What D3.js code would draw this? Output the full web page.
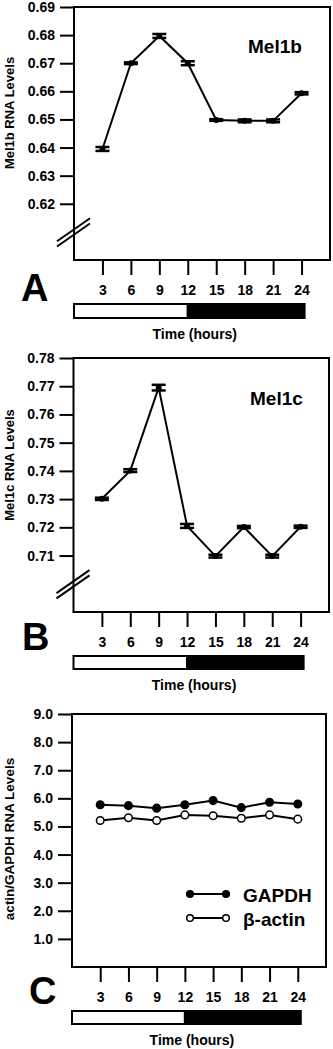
<!DOCTYPE html>
<html>
<head>
<meta charset="utf-8">
<script src="https://cdn.jsdelivr.net/npm/d3@7"></script>
<style>
  html, body { margin: 0; padding: 0; background: #fff; }
  svg text { font-family: "Liberation Sans", Arial, Helvetica, sans-serif; font-weight: bold; fill: #000; }
</style>
</head>
<body>
<svg id="chart" width="333" height="1049"></svg>
<script>
// ---------- data ----------
const hours = [3, 6, 9, 12, 15, 18, 21, 24];

const mel1b    = [0.6395, 0.6700, 0.6797, 0.6700, 0.6498, 0.6495, 0.6495, 0.6593];
const mel1bErr = [0.0007, 0.0003, 0.0007, 0.0007, 0.0003, 0.0005, 0.0005, 0.0004];
const mel1bTicks = [0.62, 0.63, 0.64, 0.65, 0.66, 0.67, 0.68, 0.69];

const mel1c    = [0.7301, 0.7401, 0.7695, 0.7205, 0.7098, 0.7201, 0.7098, 0.7202];
const mel1cErr = [0.0004, 0.0005, 0.0010, 0.0007, 0.0005, 0.0004, 0.0005, 0.0004];
const mel1cTicks = [0.71, 0.72, 0.73, 0.74, 0.75, 0.76, 0.77, 0.78];

const gapdh = [5.77, 5.74, 5.65, 5.77, 5.92, 5.67, 5.86, 5.80];
const actin = [5.21, 5.31, 5.21, 5.41, 5.38, 5.29, 5.41, 5.26];
const ctrlTicks = [1, 2, 3, 4, 5, 6, 7, 8, 9];

const svg = d3.select("#chart");
svg.append("rect").attr("width", 333).attr("height", 1049).attr("fill", "#fff");

function panel(cfg) {
  const g = svg.append("g");
  const x = d3.scaleLinear().domain([0, 27]).range([cfg.left, cfg.right]);
  const y = d3.scaleLinear().domain(cfg.yDomain).range([cfg.bottom, cfg.top]);

  // frame
  g.append("rect")
    .attr("x", cfg.left).attr("y", cfg.top)
    .attr("width", cfg.right - cfg.left).attr("height", cfg.bottom - cfg.top)
    .attr("fill", "none").attr("stroke", "#000").attr("stroke-width", 2);

  // y axis
  const ya = g.append("g").attr("transform", `translate(${cfg.left},0)`)
    .call(d3.axisLeft(y).tickValues(cfg.yTicks).tickSize(14).tickPadding(5).tickFormat(cfg.fmt));
  ya.select(".domain").remove();
  ya.selectAll(".tick line").attr("stroke", "#000").attr("stroke-width", 2);
  ya.selectAll(".tick text").style("font-size", "14px").style("font-family", null).attr("font-family", null);

  // x axis
  const xa = g.append("g").attr("transform", `translate(0,${cfg.bottom})`)
    .call(d3.axisBottom(x).tickValues(hours).tickSize(15).tickPadding(10).tickFormat(d3.format("d")));
  xa.select(".domain").remove();
  xa.selectAll(".tick line").attr("stroke", "#000").attr("stroke-width", 2);
  xa.selectAll(".tick text").style("font-size", "14px");
  ya.attr("font-family", null); xa.attr("font-family", null);

  // axis break
  if (cfg.breakAt !== undefined) {
    const by = y(cfg.breakAt);
    [-2.6, 2.6].forEach(off => {
      g.append("line")
        .attr("x1", cfg.left - 17).attr("y1", by + off + 12)
        .attr("x2", cfg.left + 16).attr("y2", by + off - 11)
        .attr("stroke", "#000").attr("stroke-width", 2);
    });
  }

  // light/dark bar
  g.append("rect").attr("x", x(0)).attr("y", cfg.barY)
    .attr("width", x(12) - x(0)).attr("height", cfg.barH)
    .attr("fill", "#fff").attr("stroke", "#000").attr("stroke-width", 2);
  g.append("rect").attr("x", x(12)).attr("y", cfg.barY)
    .attr("width", x(24) - x(12) + 3).attr("height", cfg.barH)
    .attr("fill", "#000").attr("stroke", "#000").attr("stroke-width", 2);

  g.append("text").attr("x", x(12) + 7).attr("y", cfg.barY + cfg.barH + 21)
    .attr("text-anchor", "middle").style("font-size", "14px").text("Time (hours)");

  // panel letter
  g.append("text").attr("x", cfg.letterX).attr("y", cfg.letterY)
    .style("font-size", "38px").text(cfg.letter);

  // y label
  g.append("text")
    .attr("transform", `translate(${cfg.ylabX},${cfg.ylabY}) rotate(-90)`)
    .attr("text-anchor", "middle").style("font-size", cfg.ylabSize + "px")
    .text(cfg.ylabel);

  return { g, x, y };
}

// ---------- Panel A ----------
(function () {
  const p = panel({
    left: 74, right: 330, top: 7, bottom: 260,
    yDomain: [0.60, 0.69], yTicks: mel1bTicks, fmt: d3.format(".2f"),
    breakAt: 0.61, barY: 304, barH: 14,
    letter: "A", letterX: 21, letterY: 301,
    ylabel: "Mel1b RNA Levels", ylabX: 14, ylabY: 113, ylabSize: 13
  });
  const pts = hours.map((h, i) => ({ h, v: mel1b[i], e: mel1bErr[i] }));
  p.g.append("path").datum(pts)
    .attr("d", d3.line().x(d => p.x(d.h)).y(d => p.y(d.v)))
    .attr("fill", "none").attr("stroke", "#000").attr("stroke-width", 2);
  const eb = p.g.selectAll(".eb").data(pts).join("g");
  eb.append("line").attr("x1", d => p.x(d.h)).attr("x2", d => p.x(d.h))
    .attr("y1", d => p.y(d.v - d.e)).attr("y2", d => p.y(d.v + d.e))
    .attr("stroke", "#000").attr("stroke-width", 3);
  [-1, 1].forEach(s => {
    eb.append("line").attr("x1", d => p.x(d.h) - 7).attr("x2", d => p.x(d.h) + 7)
      .attr("y1", d => p.y(d.v + s * d.e)).attr("y2", d => p.y(d.v + s * d.e))
      .attr("stroke", "#000").attr("stroke-width", 2.5);
  });
  eb.append("circle").attr("cx", d => p.x(d.h)).attr("cy", d => p.y(d.v)).attr("r", 3).attr("fill", "#000");
  p.g.append("text").attr("x", 248).attr("y", 53).style("font-size", "19px").text("Mel1b");
})();

// ---------- Panel B ----------
(function () {
  const p = panel({
    left: 73.5, right: 329, top: 358, bottom: 612,
    yDomain: [0.69, 0.78], yTicks: mel1cTicks, fmt: d3.format(".2f"),
    breakAt: 0.70, barY: 656, barH: 13,
    letter: "B", letterX: 22, letterY: 650,
    ylabel: "Mel1c RNA Levels", ylabX: 14, ylabY: 465, ylabSize: 13
  });
  const pts = hours.map((h, i) => ({ h, v: mel1c[i], e: mel1cErr[i] }));
  p.g.append("path").datum(pts)
    .attr("d", d3.line().x(d => p.x(d.h)).y(d => p.y(d.v)))
    .attr("fill", "none").attr("stroke", "#000").attr("stroke-width", 2);
  const eb = p.g.selectAll(".eb").data(pts).join("g");
  eb.append("line").attr("x1", d => p.x(d.h)).attr("x2", d => p.x(d.h))
    .attr("y1", d => p.y(d.v - d.e)).attr("y2", d => p.y(d.v + d.e))
    .attr("stroke", "#000").attr("stroke-width", 3);
  [-1, 1].forEach(s => {
    eb.append("line").attr("x1", d => p.x(d.h) - 7).attr("x2", d => p.x(d.h) + 7)
      .attr("y1", d => p.y(d.v + s * d.e)).attr("y2", d => p.y(d.v + s * d.e))
      .attr("stroke", "#000").attr("stroke-width", 2.5);
  });
  eb.append("circle").attr("cx", d => p.x(d.h)).attr("cy", d => p.y(d.v)).attr("r", 3).attr("fill", "#000");
  p.g.append("text").attr("x", 250).attr("y", 405).style("font-size", "19px").text("Mel1c");
})();

// ---------- Panel C ----------
(function () {
  const p = panel({
    left: 72, right: 326, top: 714, bottom: 967,
    yDomain: [0, 9], yTicks: ctrlTicks, fmt: d3.format(".1f"),
    barY: 1011, barH: 13,
    letter: "C", letterX: 29, letterY: 1004,
    ylabel: "actin/GAPDH RNA Levels", ylabX: 14, ylabY: 839, ylabSize: 13.5
  });
  const series = [
    { vals: gapdh, fill: "#000" },
    { vals: actin, fill: "#fff" }
  ];
  series.forEach(s => {
    const pts = hours.map((h, i) => ({ h, v: s.vals[i] }));
    p.g.append("path").datum(pts)
      .attr("d", d3.line().x(d => p.x(d.h)).y(d => p.y(d.v)))
      .attr("fill", "none").attr("stroke", "#000").attr("stroke-width", 2);
    p.g.selectAll(null).data(pts).join("circle")
      .attr("cx", d => p.x(d.h)).attr("cy", d => p.y(d.v)).attr("r", 3.8)
      .attr("fill", s.fill).attr("stroke", "#000").attr("stroke-width", 1.5);
  });
  // legend
  const leg = [
    { name: "GAPDH", fill: "#000", y: 894 },
    { name: "β-actin", fill: "#fff", y: 918 }
  ];
  leg.forEach(l => {
    p.g.append("line").attr("x1", 190).attr("x2", 226).attr("y1", l.y).attr("y2", l.y)
      .attr("stroke", "#000").attr("stroke-width", 2);
    [190, 226].forEach(cx => p.g.append("circle").attr("cx", cx).attr("cy", l.y).attr("r", 3.3)
      .attr("fill", l.fill).attr("stroke", "#000").attr("stroke-width", 1.5));
    p.g.append("text").attr("x", 243).attr("y", l.y + 7.5).style("font-size", "19px").text(l.name);
  });
})();
</script>
</body>
</html>
